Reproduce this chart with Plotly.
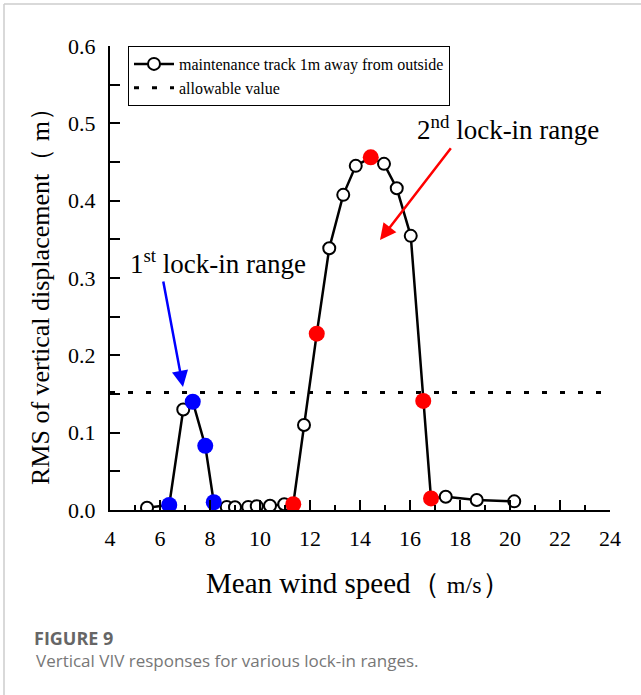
import plotly.graph_objects as go

# Data
wind_speed = [5.48, 6.37, 6.93, 7.31, 7.81, 8.15, 8.67, 9.0, 9.53, 9.87, 10.4, 10.97,
              11.33, 11.76, 12.27, 12.77, 13.33, 13.83, 14.43, 14.96, 15.47, 16.03,
              16.53, 16.84, 17.43, 18.67, 20.17]
rms_disp = [0.003, 0.0065, 0.130, 0.140, 0.083, 0.010, 0.004, 0.0035, 0.004, 0.005,
            0.0056, 0.0074, 0.0074, 0.110, 0.228, 0.3385, 0.4075, 0.445, 0.456, 0.4476,
            0.416, 0.3545, 0.141, 0.015, 0.0172, 0.013, 0.0112]

lock1_x = [6.37, 7.31, 7.81, 8.15]
lock1_y = [0.0065, 0.140, 0.083, 0.010]
lock2_x = [11.33, 12.27, 14.43, 16.53, 16.84]
lock2_y = [0.0074, 0.228, 0.456, 0.141, 0.015]

allowable_x = [4, 24]
allowable_y = [0.152, 0.152]

x_ticks = [4, 6, 8, 10, 12, 14, 16, 18, 20, 22, 24]
y_ticks = [0.0, 0.1, 0.2, 0.3, 0.4, 0.5, 0.6]
y_tick_labels = ["0.0", "0.1", "0.2", "0.3", "0.4", "0.5", "0.6"]

serif = "Liberation Serif, Times New Roman, serif"
sans = "Open Sans, Noto Sans, sans-serif"

fig = go.Figure()
fig.add_trace(go.Scatter(
    x=wind_speed, y=rms_disp, mode="lines+markers",
    name="maintenance track 1m away from outside",
    line=dict(color="black", width=2.5),
    marker=dict(symbol="circle", size=12, color="white", line=dict(color="black", width=2)),
))
fig.add_trace(go.Scatter(
    x=allowable_x, y=allowable_y, mode="lines", name="allowable value",
    line=dict(color="black", width=3, dash="5px,13px"),
))
fig.add_trace(go.Scatter(
    x=lock1_x, y=lock1_y, mode="markers", showlegend=False,
    marker=dict(symbol="circle", size=16, color="#0000ff"),
))
fig.add_trace(go.Scatter(
    x=lock2_x, y=lock2_y, mode="markers", showlegend=False,
    marker=dict(symbol="circle", size=16, color="#ff0000"),
))

L, R, T, B = 110, 31, 46, 185
W, H = 641, 695
pw, ph = W - L - R, H - T - B


def px(xp):
    return (xp - L) / pw


def py(yp):
    return (H - B - yp) / ph


annotations = [
    dict(x=px(508), y=py(128), xref="paper", yref="paper", showarrow=False,
         xanchor="center", yanchor="middle",
         text="2<sup>nd</sup> lock-in range", font=dict(family=serif, size=27, color="black")),
    dict(x=px(218), y=py(262), xref="paper", yref="paper", showarrow=False,
         xanchor="center", yanchor="middle",
         text="1<sup>st</sup> lock-in range", font=dict(family=serif, size=27, color="black")),
    dict(x=14.8, y=0.349, ax=17.68, ay=0.4696, xref="x", yref="y", axref="x", ayref="y",
         text="", showarrow=True, arrowhead=2, arrowsize=1.3, arrowwidth=2.5, arrowcolor="#ff0000"),
    dict(x=6.92, y=0.159, ax=6.12, ay=0.2975, xref="x", yref="y", axref="x", ayref="y",
         text="", showarrow=True, arrowhead=2, arrowsize=1.3, arrowwidth=2.5, arrowcolor="#0000ff"),
    dict(x=px(32), y=py(638), xref="paper", yref="paper", showarrow=False,
         xanchor="left", yanchor="middle", text="<b>FIGURE 9</b>",
         font=dict(family=sans, size=18, color="#666666")),
    dict(x=px(34), y=py(660), xref="paper", yref="paper", showarrow=False,
         xanchor="left", yanchor="middle",
         text="Vertical VIV responses for various lock-in ranges.",
         font=dict(family=sans, size=17, color="#777777")),
    dict(x=px(40), y=py(290), xref="paper", yref="paper", showarrow=False, textangle=-90,
         xanchor="center", yanchor="middle",
         text="RMS of vertical displacement（ m）",
         font=dict(family=serif, size=26, color="black")),
    dict(x=px(358), y=py(583), xref="paper", yref="paper", showarrow=False,
         xanchor="center", yanchor="middle",
         text="Mean wind speed（ <span style='font-size:24px'>m/s</span>）",
         font=dict(family=serif, size=29, color="black")),
]

shapes = [
    dict(type="line", xref="paper", yref="paper", x0=px(4), x1=px(641), y0=py(4), y1=py(4),
         line=dict(color="#cccccc", width=1.5)),
    dict(type="line", xref="paper", yref="paper", x0=px(4), x1=px(4), y0=py(4), y1=py(695),
         line=dict(color="#cccccc", width=1.5)),
]

fig.update_layout(
    width=W, height=H,
    margin=dict(l=L, r=R, t=T, b=B),
    paper_bgcolor="white", plot_bgcolor="white",
    showlegend=True,
    legend=dict(x=px(128), y=1.0, xanchor="left", yanchor="top",
                bordercolor="black", borderwidth=1, bgcolor="white",
                font=dict(family=serif, size=16, color="black"),
                tracegroupgap=0, itemwidth=40),
    annotations=annotations,
    shapes=shapes,
)
fig.update_xaxes(
    range=[4, 24], tickvals=x_ticks, showgrid=False, zeroline=False,
    showline=True, linecolor="black", linewidth=2,
    ticks="inside", ticklen=10, tickwidth=2, tickcolor="black",
    minor=dict(dtick=1, ticks="inside", ticklen=5, tickwidth=2, tickcolor="black"),
    tickfont=dict(family=serif, size=22, color="black"), ticklabelstandoff=8,
)
fig.update_yaxes(
    range=[0, 0.6], tickvals=y_ticks, ticktext=y_tick_labels, showgrid=False, zeroline=False,
    showline=True, linecolor="black", linewidth=2,
    ticks="inside", ticklen=10, tickwidth=2, tickcolor="black",
    minor=dict(dtick=0.05, ticks="inside", ticklen=10, tickwidth=2, tickcolor="black"),
    tickfont=dict(family=serif, size=22, color="black"), ticklabelstandoff=8,
)

fig.write_html("out.html", config={"displayModeBar": False},
               post_script="document.body.style.margin='0';")
